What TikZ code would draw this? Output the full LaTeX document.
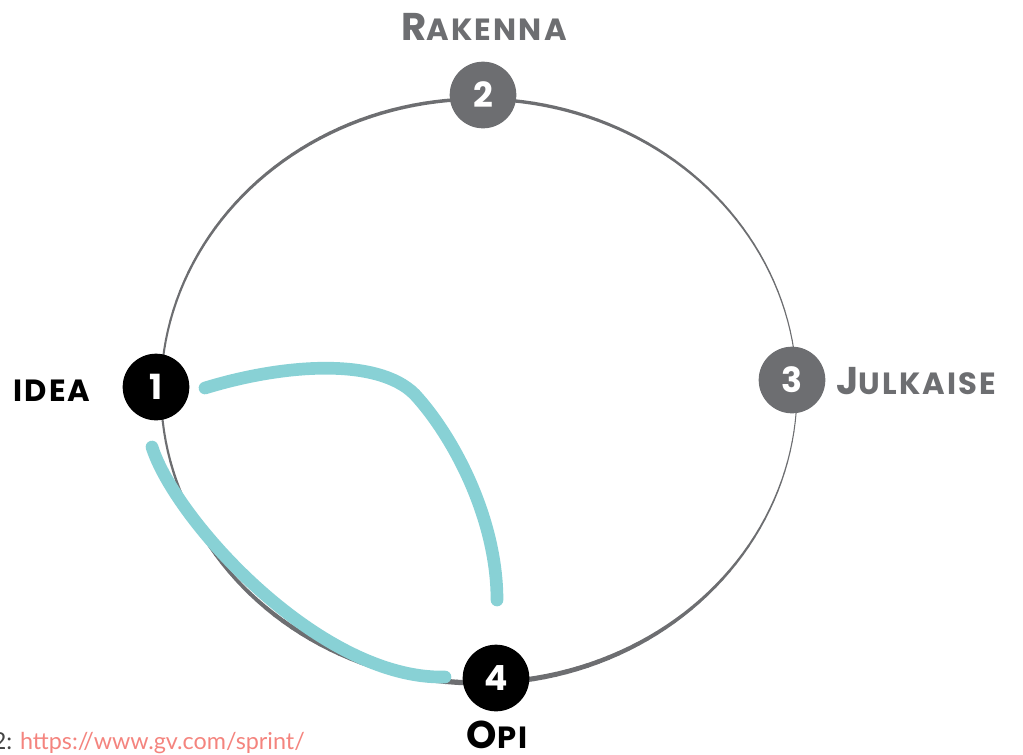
\documentclass[tikz,border=0pt]{standalone}
\usepackage{fontspec}
\newfontfamily\handfont{Poppins}[LetterSpace=7]
\newfontfamily\notefont{Lato}
\definecolor{ringgrey}{HTML}{6D6E71}
\definecolor{loopteal}{HTML}{88D1D5}
\definecolor{linkpink}{HTML}{F4847E}
\definecolor{notegrey}{HTML}{444444}
\tikzset{
  stage/.style={circle, minimum size=50pt, inner sep=0pt, text=white,
    font=\handfont\bfseries\fontsize{26}{26}\selectfont},
  stagedark/.style={stage, fill=black},
  stagegrey/.style={stage, fill=ringgrey},
  lbl/.style={inner sep=0pt, font=\handfont\bfseries},
  loop/.style={draw=loopteal, line width=9.5pt, line cap=round},
}
% small-caps look: a tall initial followed by smaller capitals
\newcommand{\bigini}[1]{{\fontsize{29}{29}\selectfont #1}}
\newcommand{\smallrest}[1]{{\fontsize{23}{23}\selectfont #1}}
\begin{document}
\begin{tikzpicture}[x=0.75pt, y=-0.75pt]
\useasboundingbox (0,0) rectangle (1023,754);

% brush-like ring: width varies around the ellipse
\foreach \a in {0,2,...,358}{
  \pgfmathsetmacro\w{0.75*(1+1.0*max(-cos(\a),0)+ifthenelse(sin(\a)>0,4.2,2.4)*sin(\a)*sin(\a))}
  \draw[ringgrey, line width=\w pt, line cap=round]
    ({479+318*cos(\a)},{391+292*sin(\a)}) -- ({479+318*cos(\a+2)},{391+292*sin(\a+2)});
}

% learning loops back to the idea
\coordinate (a0) at (205,388);
\coordinate (a1) at (418,398);
\coordinate (a2) at (497,600);
\coordinate (b0) at (152,447);
\coordinate (b1) at (445,677);
\draw[loop] (a0) .. controls (290,362) and (385,358) .. (a1)
            .. controls (455,440) and (497,520) .. (a2);
\draw[loop] (b0) .. controls (175,520) and (320,680) .. (b1);

% stages
\node[stagedark] (n1) at (156,387) {1};
\node[stagegrey] (n2) at (483,95) {2};
\node[stagegrey] (n3) at (792,380) {3};
\node[stagedark] (n4) at (496,678) {4};

% stage names
\node[lbl, text=ringgrey, anchor=base] (t2) at (484,40) {\bigini{R}\smallrest{AKENNA}};
\node[lbl, text=black, anchor=base] (t1) at (52,401) {\smallrest{IDEA}};
\node[lbl, text=ringgrey, anchor=base west] (t3) at (836,394) {\bigini{J}\smallrest{ULKAISE}};
\node[lbl, text=black, anchor=base] (t4) at (497,748) {\bigini{O}\smallrest{PI}};

% source note
\node[inner sep=0pt, anchor=base east, font=\notefont\fontsize{17.5}{17.5}\selectfont] (src) at (305,749)
  {\textcolor{notegrey}{12:} \textcolor{linkpink}{https://www.gv.com/sprint/}};
\end{tikzpicture}
\end{document}
